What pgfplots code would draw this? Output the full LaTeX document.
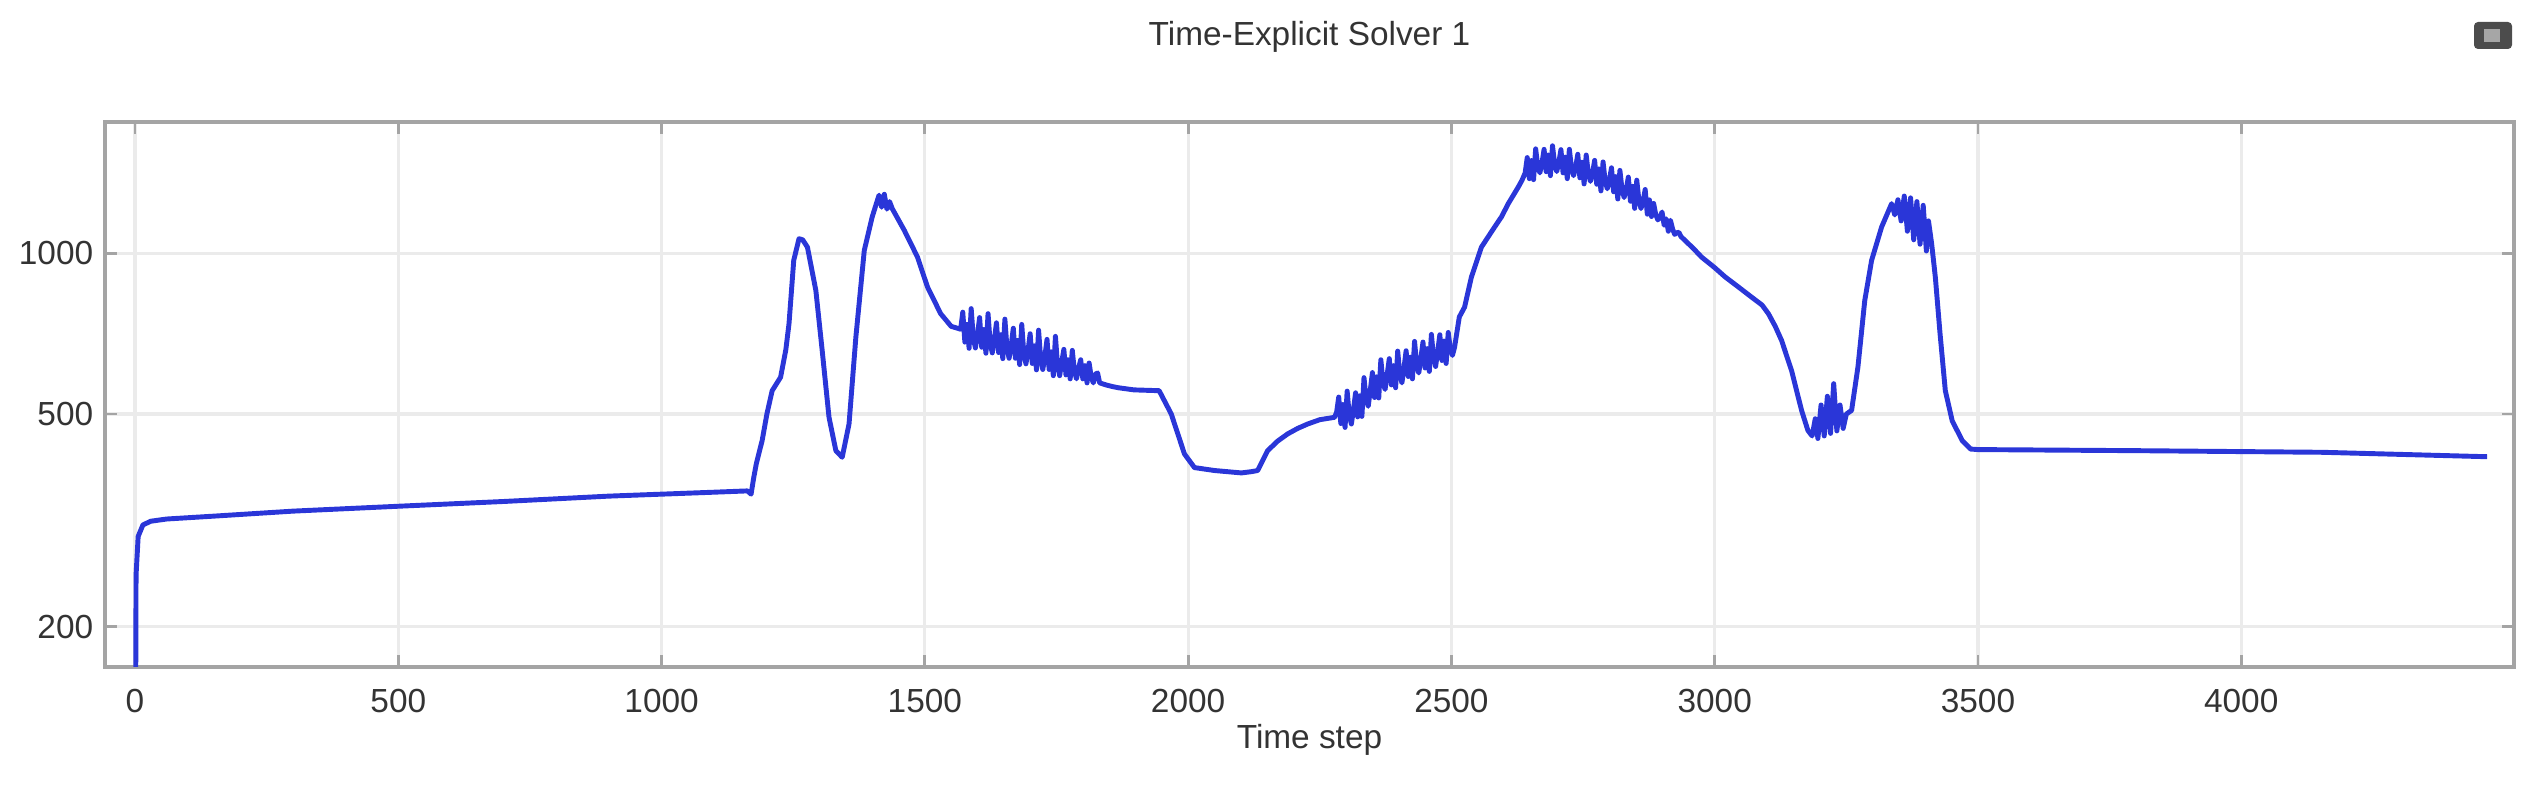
\documentclass[border=0pt]{standalone}
\usepackage{fontspec}
\setmainfont{Liberation Sans}
\usepackage{pgfplots}
\pgfplotsset{compat=1.18}
\definecolor{solverblue}{HTML}{2A36D8}
\definecolor{framegray}{HTML}{A4A4A4}
\definecolor{gridgray}{HTML}{EBEBEB}

\begin{document}
\fontsize{9.5}{11}\selectfont
\begin{tikzpicture}
\begin{axis}[
    scale only axis,
    width=24.09cm,
    height=5.45cm,
    xmin=-57, xmax=4518,
    ymode=log,
    ymin=168, ymax=1762,
    xtick={0,500,1000,1500,2000,2500,3000,3500,4000},
    xticklabels={0,500,1000,1500,2000,2500,3000,3500,4000},
    ytick={200,500,1000},
    yticklabels={200,500,1000},
    minor tick num=0,
    tick align=inside,
    major tick length=0.12cm,
    tick style={draw=framegray,line width=0.8pt},
    axis line style={draw=framegray,line width=1.1pt},
    grid=major,
    grid style={draw=gridgray,line width=0.9pt},
    tick label style={font=\fontsize{9.5}{11}\selectfont,text=black!80},
    xticklabel style={yshift=-0.1cm},
    /pgf/number format/assume math mode=true,
    title={Time-Explicit Solver 1},
    title style={at={(0.5,1)},anchor=south,yshift=0.37cm,font=\fontsize{9.5}{11}\selectfont,text=black!80},
    xlabel={Time step},
    xlabel style={at={(axis description cs:0.5,0)},anchor=north,yshift=-0.45cm,font=\fontsize{9.5}{11}\selectfont,text=black!80},
]
\addplot[solverblue,line width=1.4pt,line join=round] coordinates {
(0,60) (2,250) (6,295) (15,310) (30,315) (60,318) (150,322) (300,329)
(500,336) (700,343) (900,351) (1100,357) (1163,359) (1170,354) (1175,380)
(1180,404) (1191,446) (1200,500) (1210,553) (1226,586) (1236,660) (1242,738)
(1251,970) (1261,1065) (1268,1060) (1277,1027) (1293,852) (1305,658)
(1318,493) (1331,427) (1343,415) (1356,479) (1369,697) (1385,1013)
(1400,1170) (1408,1240) (1413,1285) (1418,1220) (1423,1290) (1428,1210)
(1433,1250) (1438,1213) (1461,1104) (1486,984) (1505,865) (1530,771)
(1550,730)
(1568,721) (1572,776) (1576,682) (1580,736) (1584,664) (1588,788) (1592,695)
(1596,665) (1600,705) (1604,758) (1608,667) (1612,720) (1616,650) (1620,771)
(1624,680) (1628,651) (1632,690) (1636,741) (1640,652) (1644,704) (1648,635)
(1652,753) (1656,664) (1660,636) (1664,673) (1668,724) (1672,636) (1676,687)
(1680,619) (1684,736) (1688,649) (1692,621) (1696,658) (1700,707) (1704,622)
(1708,671) (1712,605) (1716,718) (1720,633) (1724,606) (1728,642) (1732,690)
(1736,606) (1740,654) (1744,590) (1748,699) (1752,617) (1756,590) (1760,626)
(1764,661) (1768,592) (1772,632) (1776,582) (1780,658) (1784,602) (1788,582)
(1792,610) (1796,632) (1800,582) (1804,616) (1808,572) (1812,623) (1816,586)
(1820,572) (1824,594) (1828,597) (1832,572)
(1844,567) (1856,563) (1868,560) (1897,555)
(1945,553) (1968,500) (1993,421) (2012,397) (2050,392) (2101,388)
(2120,390) (2132,392) (2151,427) (2170,445) (2189,459) (2208,470)
(2227,479) (2250,488) (2278,493)
(2282,504) (2286,538) (2290,480) (2294,521) (2298,472) (2302,552) (2306,498)
(2310,479) (2314,510) (2318,548) (2322,494) (2326,541) (2330,495) (2334,585)
(2338,533) (2342,517) (2346,555) (2350,598) (2354,537) (2358,587) (2362,536)
(2366,632) (2370,574) (2374,556) (2378,593) (2382,635) (2386,567) (2390,616)
(2394,560) (2398,656) (2402,593) (2406,572) (2410,611) (2414,657) (2418,588)
(2422,639) (2426,582) (2430,684) (2434,619) (2438,597) (2442,636) (2446,682)
(2450,610) (2454,663) (2458,601) (2462,705) (2466,638) (2470,614) (2474,656)
(2478,704) (2482,630) (2486,685) (2490,622) (2494,711) (2498,661) (2502,644)
(2506,667) (2515,760) (2525,793) (2538,903) (2557,1027) (2582,1120) (2595,1170)
(2608,1239) (2627,1331) (2634,1370)
(2640,1414) (2644,1511) (2648,1380) (2652,1492) (2656,1374) (2660,1569)
(2664,1456) (2668,1415) (2672,1476) (2676,1566) (2680,1422) (2684,1528)
(2688,1398) (2692,1590) (2696,1470) (2700,1423) (2704,1480) (2708,1564)
(2712,1415) (2716,1514) (2720,1380) (2724,1566) (2728,1446) (2732,1398)
(2736,1451) (2740,1533) (2744,1385) (2748,1481) (2752,1349) (2756,1528)
(2760,1411) (2764,1364) (2768,1414) (2772,1493) (2776,1347) (2780,1439)
(2784,1309) (2788,1483) (2792,1367) (2796,1321) (2800,1370) (2804,1446)
(2808,1304) (2812,1392) (2816,1264) (2820,1430) (2824,1318) (2828,1272)
(2832,1317) (2836,1389) (2840,1252) (2844,1335) (2848,1214) (2852,1371)
(2856,1259) (2860,1213) (2864,1252) (2868,1317) (2872,1184) (2876,1259)
(2880,1172) (2884,1240) (2888,1183) (2892,1155) (2896,1169) (2900,1195)
(2904,1129) (2908,1160) (2912,1100) (2916,1153) (2920,1111) (2924,1085)
(2928,1093) (2932,1095) (2936,1075)
(2960,1020) (2975,984) (3000,940) (3020,903) (3045,865) (3070,828)
(3090,800) (3102,771) (3115,730) (3127,687) (3146,603) (3165,508)
(3177,466) (3185,455) (3191,490) (3196,450) (3202,520) (3208,455)
(3214,540) (3220,460) (3226,570) (3232,465) (3238,520) (3244,470)
(3250,500) (3260,508) (3272,612) (3285,816) (3298,970) (3317,1120)
(3336,1239) (3342,1180) (3348,1260) (3354,1150) (3360,1280) (3366,1100)
(3372,1270) (3378,1060) (3384,1250) (3390,1040) (3396,1230) (3402,1010)
(3406,1150) (3412,1043) (3419,903) (3428,707) (3438,553) (3451,486)
(3470,446) (3486,430) (3500,429) (3800,427) (4154,424) (4467,416)
};
\end{axis}
\fill[black!70,rounded corners=0.04cm]
  ([shift={(-0.40cm,0.73cm)}]current axis.north east) rectangle ([shift={(-0.02cm,1.00cm)}]current axis.north east);
\fill[black!35]
  ([shift={(-0.30cm,0.80cm)}]current axis.north east) rectangle ([shift={(-0.14cm,0.93cm)}]current axis.north east);
\pgfresetboundingbox
\path ([shift={(-1.05cm,-1.21cm)}]current axis.south west) rectangle ([shift={(0.25cm,1.22cm)}]current axis.north east);
\end{tikzpicture}
\end{document}
